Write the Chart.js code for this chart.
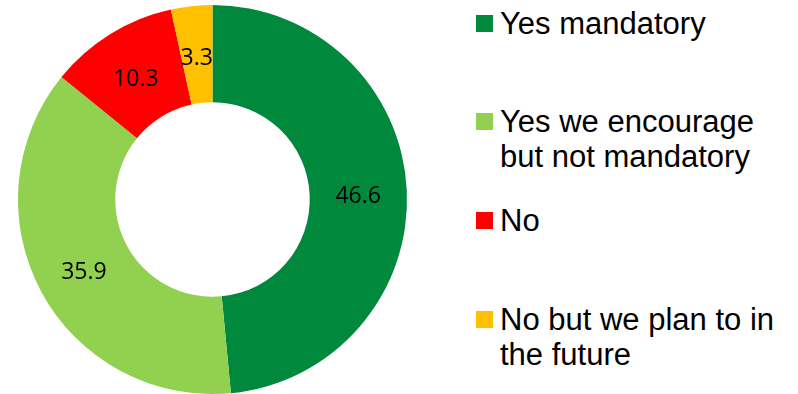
<!DOCTYPE html>
<html lang="en">
<head>
    <meta charset="UTF-8">
    <title>Doughnut</title>
    <script src="https://cdn.jsdelivr.net/npm/chart.js"></script>
    <style>
        * { margin: 0; padding: 0; box-sizing: border-box; }
        body { background: #fff; width: 798px; height: 394px; position: relative; overflow: hidden; }
        #wrap { position: absolute; left: 0; top: 0; width: 425px; height: 394px; }
        #legend { position: absolute; left: 476px; top: 0; width: 322px; height: 394px; }
        .item { position: absolute; left: 0; width: 322px; }
        .box { position: absolute; left: 0; width: 17px; height: 17px; }
        .txt {
            position: absolute; left: 24px; width: 296px;
            font-family: 'Liberation Sans', Arial, sans-serif;
            font-size: 31px; line-height: 35px; color: #000;
        }
    </style>
</head>
<body>
    <div id="wrap"><canvas id="donut"></canvas></div>
    <div id="legend"></div>

    <script>
        // categories and values
        const categories = ['Yes mandatory', 'Yes we encourage but not mandatory', 'No', 'No but we plan to in the future'];
        const values = [46.6, 35.9, 10.3, 3.3];
        const colours = ['#00883D', '#92D050', '#FF0000', '#FFC000'];

        // legend on the right, one block per category
        const legend = document.getElementById('legend');
        categories.forEach((label, i) => {
            const item = document.createElement('div');
            item.className = 'item';
            item.style.top = (5.5 + i * 98.7) + 'px';
            item.innerHTML = '<div class="box" style="top:9px;background:' + colours[i] + '"></div>' +
                             '<div class="txt">' + label + '</div>';
            legend.appendChild(item);
        });

        // values drawn in the middle of each ring segment
        const valueLabels = {
            id: 'valueLabels',
            afterDatasetsDraw(chart) {
                const ctx = chart.ctx;
                const meta = chart.getDatasetMeta(0);
                ctx.save();
                ctx.font = '23px "Open Sans", sans-serif';
                ctx.fillStyle = '#000';
                ctx.textAlign = 'center';
                ctx.textBaseline = 'alphabetic';
                meta.data.forEach((arc, i) => {
                    const p = arc.tooltipPosition();
                    ctx.fillText(values[i].toFixed(1), p.x, p.y + 10.5);
                });
                ctx.restore();
            }
        };

        new Chart(document.getElementById('donut').getContext('2d'), {
            type: 'doughnut',
            data: {
                labels: categories,
                datasets: [{
                    data: values,
                    backgroundColor: colours,
                    borderWidth: 0
                }]
            },
            options: {
                responsive: true,
                maintainAspectRatio: false,
                animation: false,
                cutout: '50%',
                layout: { padding: { top: 5, bottom: 0 } },
                plugins: {
                    legend: { display: false },
                    tooltip: { enabled: false }
                }
            },
            plugins: [valueLabels]
        });
    </script>
</body>
</html>
